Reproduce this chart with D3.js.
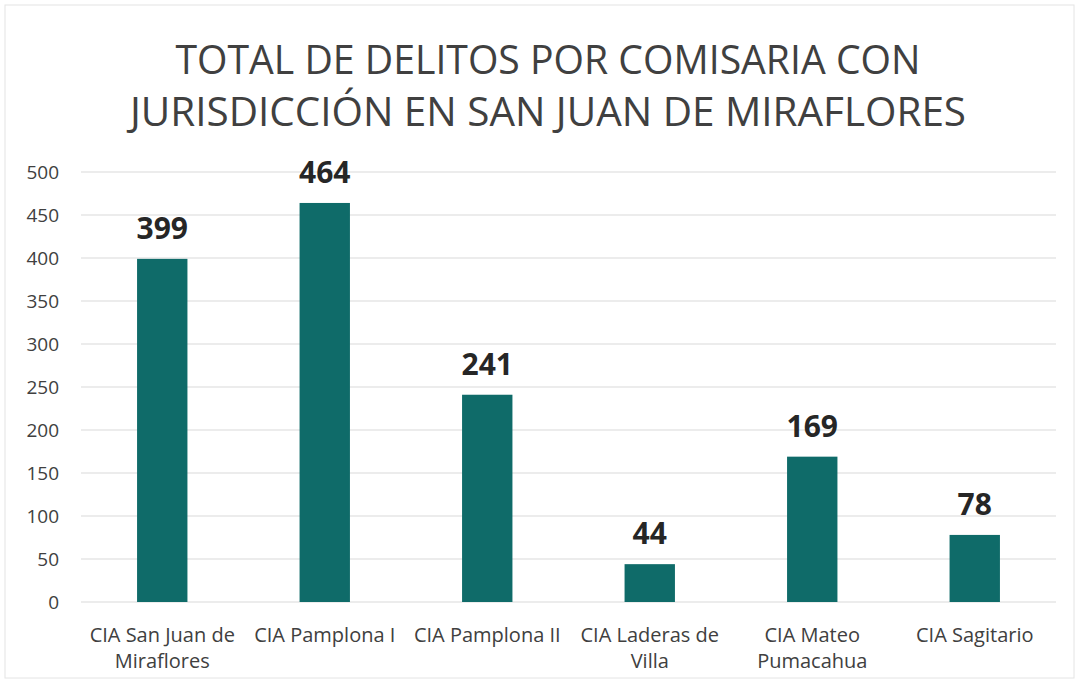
<!DOCTYPE html>
<html lang="es">
<head>
<meta charset="utf-8">
<script src="https://d3js.org/d3.v7.min.js"></script>
<style>
  body { margin: 0; background: #fff; }
  svg { display: block; font-family: "Open Sans", "Noto Sans", sans-serif; }
</style>
</head>
<body>
<script>
  // data
  const categories = ["CIA San Juan de Miraflores", "CIA Pamplona I", "CIA Pamplona II",
                      "CIA Laderas de Villa", "CIA Mateo Pumacahua", "CIA Sagitario"];
  const catLines = [["CIA San Juan de", "Miraflores"], ["CIA Pamplona I"], ["CIA Pamplona II"],
                    ["CIA Laderas de", "Villa"], ["CIA Mateo", "Pumacahua"], ["CIA Sagitario"]];
  const values = [399, 464, 241, 44, 169, 78];
  const yTicks = [0, 50, 100, 150, 200, 250, 300, 350, 400, 450, 500];
  const titleLines = ["TOTAL DE DELITOS POR COMISARIA CON", "JURISDICCIÓN EN SAN JUAN DE MIRAFLORES"];

  const width = 1079, height = 683;
  const margin = { top: 172, right: 23, bottom: 81, left: 81 };

  const svg = d3.select("body").append("svg")
      .attr("width", width)
      .attr("height", height);

  // faint frame of the chart area
  svg.append("rect")
      .attr("x", 5).attr("y", 5)
      .attr("width", width - 10).attr("height", height - 10)
      .attr("fill", "none")
      .attr("stroke", "#e4e4e4");

  const x = d3.scaleBand()
      .domain(categories)
      .range([margin.left, width - margin.right])
      .paddingInner(0.69)
      .paddingOuter(0.345);

  const y = d3.scaleLinear()
      .domain([0, 500])
      .range([height - margin.bottom, margin.top]);

  // gridlines
  svg.append("g")
      .selectAll("line")
      .data(yTicks)
      .join("line")
      .attr("x1", margin.left)
      .attr("x2", width - margin.right)
      .attr("y1", d => y(d))
      .attr("y2", d => y(d))
      .attr("stroke", "#d9d9d9")
      .attr("stroke-width", 1);

  // y axis labels
  const yAxis = svg.append("g")
      .attr("transform", `translate(${margin.left - 22},0)`)
      .call(d3.axisLeft(y).tickValues(yTicks).tickSize(0).tickPadding(0));
  yAxis.select(".domain").remove();
  yAxis.selectAll("text")
      .attr("fill", "#404040")
      .style("font-size", "19px")
      .style("font-family", "'Open Sans', sans-serif");

  // bars
  svg.append("g")
      .selectAll("rect")
      .data(values)
      .join("rect")
      .attr("x", (d, i) => x(categories[i]))
      .attr("y", d => y(d))
      .attr("width", x.bandwidth())
      .attr("height", d => y(0) - y(d))
      .attr("fill", "#0f6b69");

  // value labels
  svg.append("g")
      .selectAll("text")
      .data(values)
      .join("text")
      .attr("x", (d, i) => x(categories[i]) + x.bandwidth() / 2)
      .attr("y", d => y(d) - 20)
      .attr("text-anchor", "middle")
      .attr("fill", "#262626")
      .style("font-size", "30px")
      .style("font-weight", "bold")
      .text(d => d);

  // category labels
  const cat = svg.append("g")
      .selectAll("text")
      .data(catLines)
      .join("text")
      .attr("text-anchor", "middle")
      .attr("fill", "#404040")
      .style("font-size", "20px")
      .attr("transform", (d, i) => `translate(${x(categories[i]) + x.bandwidth() / 2},${y(0) + 40})`);
  cat.selectAll("tspan")
      .data(d => d)
      .join("tspan")
      .attr("x", 0)
      .attr("dy", (d, i) => i === 0 ? 0 : 26)
      .text(d => d);

  // title
  const titleWidths = [745, 836];
  svg.append("g")
      .selectAll("text")
      .data(titleLines)
      .join("text")
      .attr("x", 548)
      .attr("y", (d, i) => 74 + i * 52)
      .attr("text-anchor", "middle")
      .attr("fill", "#404040")
      .style("font-size", "40px")
      .attr("textLength", (d, i) => titleWidths[i])
      .attr("lengthAdjust", "spacingAndGlyphs")
      .text(d => d);
</script>
</body>
</html>
